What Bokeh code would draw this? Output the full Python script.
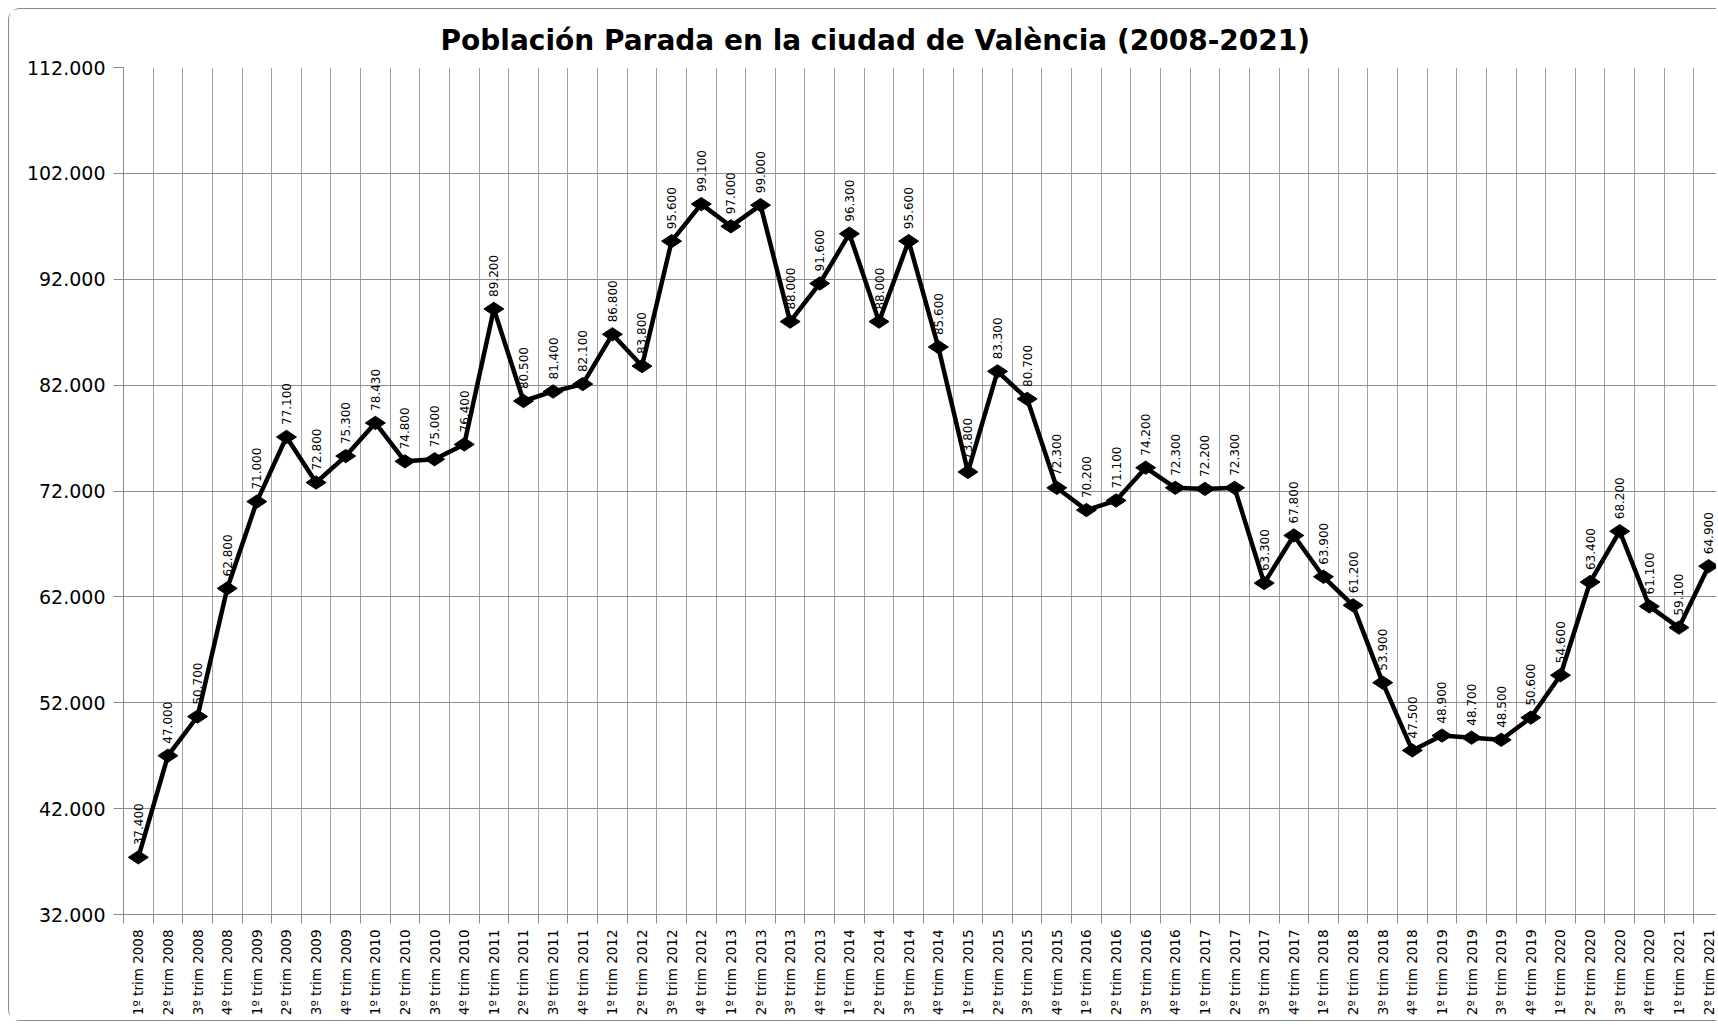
import math
from bokeh.plotting import figure
from bokeh.models import ColumnDataSource, FixedTicker, LabelSet, Range1d
from bokeh.core.properties import value
from bokeh.embed import file_html
from bokeh.resources import INLINE

# ---- data ----
quarters = ["1º", "2º", "3º", "4º"]
years = list(range(2008, 2022))
categories = [f"{q} trim {y}" for y in years for q in quarters][:54]

parados = [
    37400, 47000, 50700, 62800,
    71000, 77100, 72800, 75300,
    78430, 74800, 75000, 76400,
    89200, 80500, 81400, 82100,
    86800, 83800, 95600, 99100,
    97000, 99000, 88000, 91600,
    96300, 88000, 95600, 85600,
    73800, 83300, 80700, 72300,
    70200, 71100, 74200, 72300,
    72200, 72300, 63300, 67800,
    63900, 61200, 53900, 47500,
    48900, 48700, 48500, 50600,
    54600, 63400, 68200, 61100,
    59100, 64900,
]

y_ticks = [32000, 42000, 52000, 62000, 72000, 82000, 92000, 102000, 112000]

def fmt(v):
    return f"{v:,}".replace(",", ".")

xs = list(range(len(categories)))
labels = [fmt(v) for v in parados]
src = ColumnDataSource(data=dict(x=xs, y=parados, label=labels))

FONT = "DejaVu Sans"

p = figure(
    width=1708, height=1013,
    output_backend="svg", toolbar_location=None,
    x_range=Range1d(-0.5, 53.3), y_range=Range1d(32000, 112000),
    min_border_left=114, min_border_right=0,
    min_border_top=58, min_border_bottom=108,
)
p.styles = {
    "margin-left": "8px",
    "margin-top": "8px",
    "border-left": "1px solid #8a8a8a",
    "border-top": "1px solid #8a8a8a",
    "border-bottom": "1px solid #8a8a8a",
    "border-top-left-radius": "12px",
    "border-bottom-left-radius": "12px",
}
p.outline_line_color = None
p.background_fill_color = "white"
p.border_fill_color = "white"

# title
p.title.text = "Población Parada en la ciudad de València (2008-2021)"
p.title.text_font = FONT
p.title.text_font_style = "bold"
p.title.text_font_size = "28px"
p.title.text_color = "black"
p.title.align = "left"
p.title.offset = 317
p.title.standoff = 22

# y axis
p.yaxis.ticker = FixedTicker(ticks=y_ticks)
p.yaxis.major_label_overrides = {t: fmt(t) for t in y_ticks}
p.yaxis.major_label_text_font = FONT
p.yaxis.major_label_text_font_size = "19px"
p.yaxis.major_label_text_color = "black"
p.yaxis.major_tick_out = 10
p.yaxis.major_tick_in = 0
p.yaxis.minor_tick_line_color = None
p.yaxis.major_tick_line_color = "#8a8a8a"
p.yaxis.axis_line_color = "#8a8a8a"
p.yaxis.major_label_standoff = 8

# x axis
boundaries = [i - 0.5 for i in range(len(categories) + 1)]
p.xaxis.ticker = FixedTicker(ticks=xs, minor_ticks=boundaries)
p.xaxis.major_label_overrides = {i: c for i, c in enumerate(categories)}
p.xaxis.major_label_orientation = math.pi / 2
p.xaxis.major_label_text_font = FONT
p.xaxis.major_label_text_font_size = "13.5px"
p.xaxis.major_label_text_color = "black"
p.xaxis.major_tick_line_color = None
p.xaxis.minor_tick_line_color = "#8a8a8a"
p.xaxis.minor_tick_out = 9
p.xaxis.minor_tick_in = 0
p.xaxis.axis_line_color = "#8a8a8a"
p.xaxis.major_label_standoff = 6

# grids
p.xgrid.ticker = FixedTicker(ticks=boundaries)
p.xgrid.grid_line_color = "#a0a0a0"
p.xgrid.grid_line_width = 1
p.ygrid.ticker = FixedTicker(ticks=y_ticks)
p.ygrid.grid_line_color = "#8c8c8c"
p.ygrid.grid_line_width = 1

# series
p.line("x", "y", source=src, line_width=4.5, line_color="black")
p.scatter("x", "y", source=src, marker="diamond", size=20, angle=math.pi / 2,
          fill_color="black", line_color="black")

lbl = LabelSet(x="x", y="y", text="label", source=src,
               angle=math.pi / 2, text_align="left", text_baseline="middle",
               y_offset=12, text_font=value(FONT), text_font_size="12px",
               text_color="black")
p.add_layout(lbl)

open("out.html", "w").write(file_html(p, INLINE))
